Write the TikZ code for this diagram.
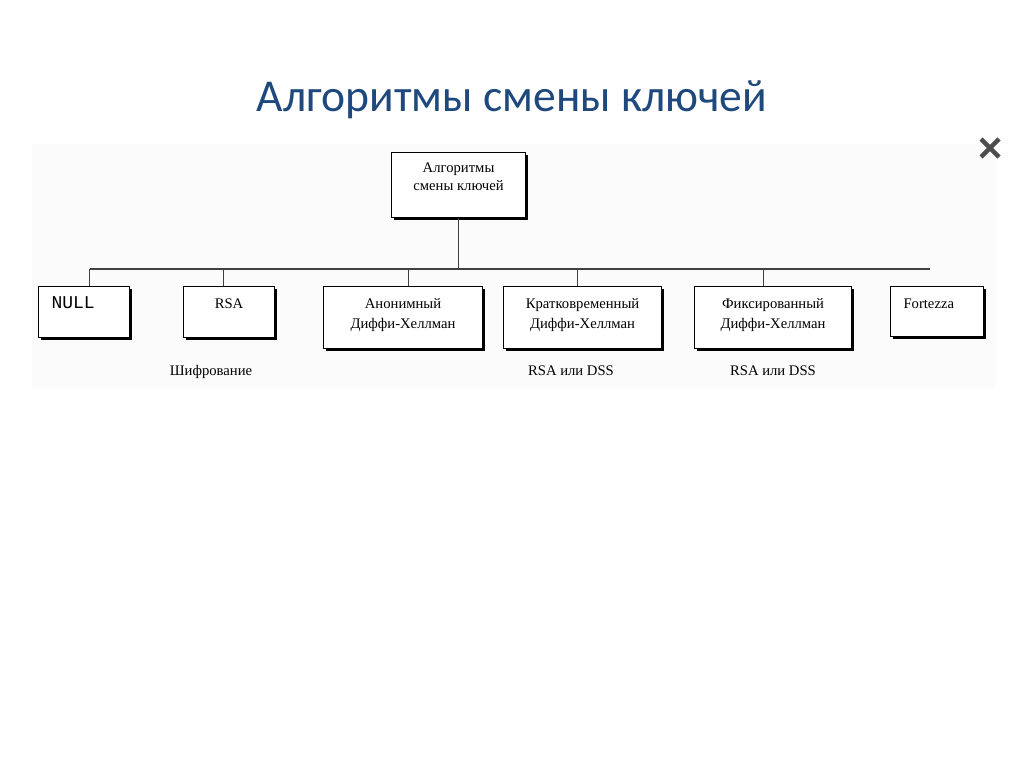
\documentclass[tikz,border=0pt]{standalone}
\usepackage{fontspec}
\setmainfont{Liberation Serif}
\newfontfamily\titlefont{Carlito}
\newfontfamily\monofont{Liberation Mono}
\usetikzlibrary{shadows}
\definecolor{titleblue}{HTML}{1F497D}
\definecolor{markgray}{HTML}{4D4D4D}
\begin{document}
\begin{tikzpicture}[
		x=0.75pt, y=-0.75pt,
		box/.style={draw, fill=white, line width=0.8pt, inner sep=0pt,
			drop shadow={shadow xshift=2.2pt, shadow yshift=-2.2pt, opacity=1, fill=black},
			font=\fontsize{11}{15}\selectfont, align=center, anchor=north west},
		one/.style={box, text height=16.5pt, text depth=21.75pt},
		two/.style={box, text height=31.5pt, text depth=15pt},
		lefttext/.style={text width=#1, align=left, inner xsep=9.75pt},
		note/.style={font=\fontsize{11}{13}\selectfont, anchor=base},
		wire/.style={draw=black!75, line width=0.8pt}
	]
	\useasboundingbox (0,0) rectangle (1024,767);
	\fill[black!1.5] (32,144) rectangle (995,388);
	\node[font=\titlefont\fontsize{34.2}{40}\selectfont, text=titleblue, anchor=base]
		(title) at (512,111) {Алгоритмы смены ключей};
	% root
	\node[box, minimum width=100.5pt, text height=28.5pt, text depth=20.25pt,
		font=\fontsize{11}{13.5}\selectfont] (root) at (391,152) {Алгоритмы\\смены ключей};
	% second level
	\node[one, lefttext=48.75pt, font=\monofont\fontsize{13.5}{15}\selectfont] (null) at (38,286) {NULL};
	\node[one, minimum width=68.25pt] (rsa) at (183,286) {RSA};
	\node[two, minimum width=119.25pt] (anon) at (323,286) {Анонимный\\Диффи-Хеллман};
	\node[two, minimum width=118.5pt] (krat) at (503,286) {Кратковременный\\Диффи-Хеллман};
	\node[two, minimum width=117.75pt] (fix) at (694,286) {Фиксированный\\Диффи-Хеллман};
	\node[one, lefttext=50.25pt, text depth=21pt] (fort) at (890,286) {Fortezza};
	% notes
	\node[note] (enc) at (211,375) {Шифрование};
	\node[note] (kratsig) at (571,375) {RSA или DSS};
	\node[note] (fixsig) at (773,375) {RSA или DSS};
	% bus
	\coordinate (busL) at (90,269);
	\coordinate (busR) at (930,269);
	\draw[wire] (busL) -- (busR);
	\draw[wire] (root.south) -- (root.south |- busL);
	\foreach \n/\dx in {null/4.1pt, rsa/-4.1pt, anon/4.1pt, krat/-3.75pt, fix/-7.1pt}
		\draw[wire] ([xshift=\dx]\n.north) -- ([xshift=\dx]\n.north |- busL);
	% close mark
	\draw[markgray, line width=3.2pt] (981,139) -- (999,157) (981,157) -- (999,139);
\end{tikzpicture}
\end{document}
